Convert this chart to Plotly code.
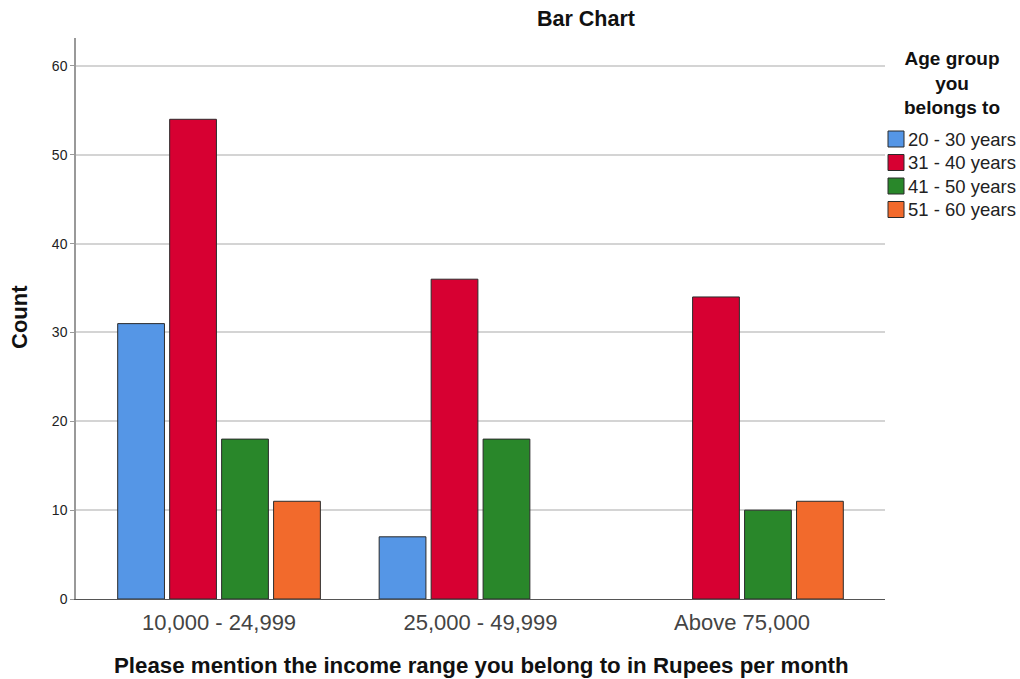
import plotly.graph_objects as go

# Income ranges (x categories) and age-group series
income_ranges = ["10,000 - 24,999", "25,000 - 49,999", "Above 75,000"]
age_groups = ["20 - 30 years", "31 - 40 years", "41 - 50 years", "51 - 60 years"]
counts_20_30 = [31, 7, None]
counts_31_40 = [54, 36, 34]
counts_41_50 = [18, 18, 10]
counts_51_60 = [11, None, 11]
series_counts = [counts_20_30, counts_31_40, counts_41_50, counts_51_60]
series_colors = ["#5596e6", "#d70032", "#29872a", "#f26a2c"]
y_ticks = [0, 10, 20, 30, 40, 50, 60]

W, H = 1020, 679
L, R, T, B = 76, 135, 38, 80
PW, PH = W - L - R, H - T - B
FONT = "Liberation Sans, Arial, sans-serif"


def px_x(x):
    return (x - L) / PW


def px_y(y):
    return 1 - (y - T) / PH


def label(text, x, y, size, color="#111", xanchor="center", **kw):
    return dict(text=text, x=px_x(x), y=px_y(y), xref="paper", yref="paper",
                xanchor=xanchor, yanchor="middle", showarrow=False,
                font=dict(size=size, color=color, family=FONT), **kw)


fig = go.Figure()
for name, vals, col in zip(age_groups, series_counts, series_colors):
    fig.add_trace(go.Bar(
        x=income_ranges, y=vals, name=name,
        marker=dict(color=col, line=dict(color="#2b2b2b", width=1)),
        showlegend=False,
    ))

annotations = [
    label("<b>Bar Chart</b>", 586, 19, 21.5),
    label("<b>Count</b>", 19, 317, 22, textangle=-90),
    label("<b>Please mention the income range you belong to in Rupees per month</b>",
          481, 665, 22.3),
    # legend title
    label("<b>Age group<br>you<br>belongs to</b>", 952, 83, 19),
]

shapes = []
row_y = [139, 162.5, 186, 209.5]
for name, col, yc in zip(age_groups, series_colors, row_y):
    shapes.append(dict(type="rect", xref="paper", yref="paper",
                       x0=px_x(888), x1=px_x(904), y0=px_y(yc + 8), y1=px_y(yc - 8),
                       fillcolor=col, line=dict(color="#2b2b2b", width=1)))
    annotations.append(label(name, 906, yc, 18.5, color="#222", xanchor="left"))

fig.update_layout(
    width=W, height=H,
    margin=dict(l=L, r=R, t=T, b=B, autoexpand=False),
    paper_bgcolor="white", plot_bgcolor="white",
    barmode="group", bargap=0.205, bargroupgap=0.1,
    font=dict(family=FONT),
    annotations=annotations, shapes=shapes,
    xaxis=dict(
        type="category", range=[-0.547, 2.547],
        showline=True, linecolor="#555", linewidth=1,
        showgrid=False, ticks="", zeroline=False,
        ticklabelstandoff=4,
        tickfont=dict(size=22, color="#444", family=FONT),
    ),
    yaxis=dict(
        range=[0, 63.15], tickvals=y_ticks,
        showline=True, linecolor="#999", linewidth=1.5,
        showgrid=True, gridcolor="#d4d4d4", gridwidth=1.5,
        ticks="outside", ticklen=4, tickcolor="#999",
        zeroline=False,
        tickfont=dict(size=14, color="#222", family=FONT),
    ),
)

fig.write_html("out.html")
